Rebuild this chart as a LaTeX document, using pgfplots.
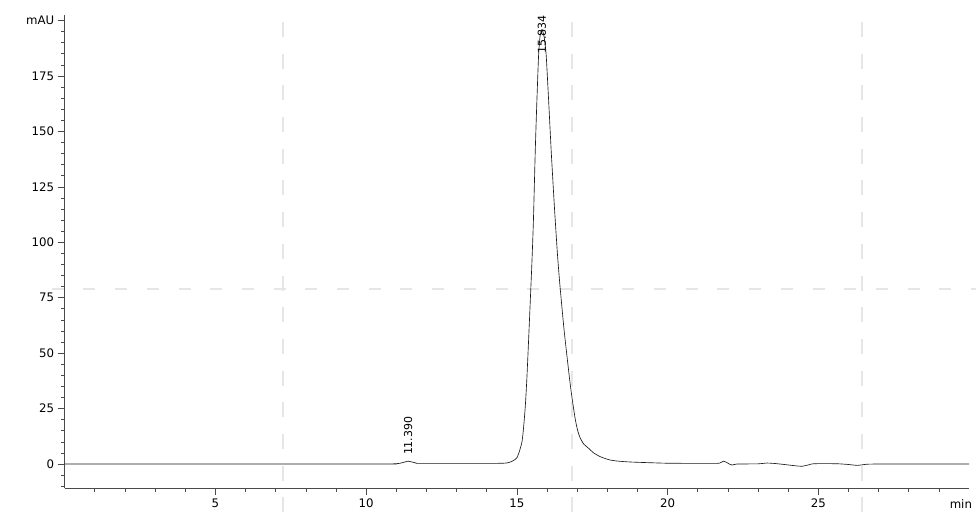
\documentclass[border=0pt]{standalone}
\usepackage{fontspec}
\setmainfont{DejaVu Sans}
\usepackage{pgfplots}
\pgfplotsset{compat=1.18}

\definecolor{axisgray}{HTML}{4A4A4A}
\definecolor{trace}{HTML}{1A1A1A}
\definecolor{wmgray}{HTML}{E6E6E6}

\begin{document}
\begin{tikzpicture}
% faint dashed grid of the background
\draw[wmgray, line width=2.6bp, dash pattern=on 15bp off 16.7bp] (283bp,490bp) -- (283bp,0bp);
\draw[wmgray, line width=2.6bp, dash pattern=on 15bp off 16.7bp] (572bp,490bp) -- (572bp,0bp);
\draw[wmgray, line width=2.6bp, dash pattern=on 15bp off 16.7bp] (862bp,490bp) -- (862bp,0bp);
\draw[wmgray, line width=2.6bp, dash pattern=on 12bp off 19.7bp] (51.7bp,223bp) -- (976bp,223bp);

\begin{axis}[
    at={(64.7bp,24bp)}, anchor=south west,
    width=904.3bp, height=473bp, scale only axis,
    xmin=0, xmax=30, ymin=-10.8, ymax=202.5,
    axis x line=bottom, axis y line=left,
    axis line style={-, axisgray, line width=0.8bp},
    tick align=outside,
    major tick length=7bp, minor tick length=3.5bp,
    every tick/.style={axisgray, line width=0.7bp},
    xtick={5,10,15,20,25},
    minor xtick={1,2,...,29},
    ytick={0,25,...,200},
    yticklabels={0,25,50,75,100,125,150,175,mAU},
    minor ytick={-10,-5,...,200},
    tick label style={font=\fontsize{11.8}{13}\selectfont},
    /pgf/number format/assume math mode=true,
    clip=false,
]
\addplot[trace, line width=0.65bp, smooth, tension=0.35] coordinates {
(0,0) (10.4,0) (10.9,0.1) (11.1,0.3) (11.25,0.8) (11.39,1.3) (11.5,1.0) (11.65,0.5) (11.8,0.3)
(14.0,0.3) (14.5,0.35) (14.67,0.5) (14.80,1.0) (14.90,1.7) (15.00,2.8) (15.08,5.5)
(15.17,10) (15.22,16) (15.28,26) (15.33,38) (15.39,56) (15.45,75) (15.50,91) (15.55,110)
(15.61,141) (15.66,162) (15.72,184) (15.77,193) (15.834,196) (15.90,193) (15.97,185)
(16.05,165) (16.14,141) (16.25,115) (16.35,94) (16.42,82) (16.49,71.5) (16.57,60)
(16.66,49) (16.77,36) (16.85,28) (16.94,20) (17.02,15) (17.10,11.8) (17.22,9) (17.38,7.1)
(17.55,5.0) (17.77,3.3) (17.95,2.4) (18.10,1.8) (18.30,1.4) (18.55,1.1) (18.80,0.9)
(19.20,0.7) (19.65,0.5) (20.10,0.35) (21.6,0.3) (21.75,0.6) (21.86,1.3) (21.95,0.8)
(22.05,0.0) (22.14,-0.45) (22.3,0) (23.0,0.1) (23.3,0.45) (23.6,0.2) (24.0,-0.4)
(24.25,-0.8) (24.46,-1.0) (24.7,-0.3) (24.85,0.15) (25.6,0.15) (26.0,-0.2) (26.3,-0.6)
(26.6,-0.1) (27.0,0) (30,0)
};
\node[rotate=90, anchor=west, inner sep=0pt, font=\fontsize{11}{12}\selectfont]
    at (axis cs:11.39,4) {11.390};
\node[rotate=90, anchor=west, inner sep=0pt, font=\fontsize{11}{12}\selectfont]
    at (axis cs:15.834,185) {15.834};
\node[anchor=north, font=\fontsize{11.8}{13}\selectfont, inner sep=3.9bp]
    at ([yshift=-7bp]axis cs:29.73,-10.8) {min};
\end{axis}
\pgfresetboundingbox
\useasboundingbox (0bp,0bp) rectangle (976bp,512bp);
\end{tikzpicture}
\end{document}
